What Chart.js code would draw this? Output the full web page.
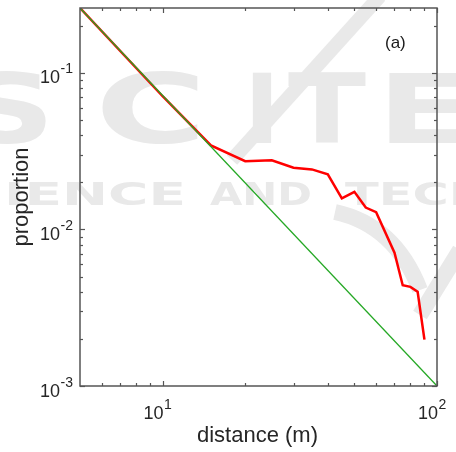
<!DOCTYPE html>
<html>
<head>
<meta charset="utf-8">
<script src="https://cdn.jsdelivr.net/npm/chart.js"></script>
<style>
  html, body { margin: 0; padding: 0; background: #fff; }
  #wrap { width: 456px; height: 452px; }
</style>
</head>
<body>
<div id="wrap"><canvas id="distChart" width="456" height="452"></canvas></div>
<script>
// observed proportion per distance bin (m)
const distances = [5, 10, 15, 20, 25, 30, 35, 40, 45, 50, 55, 60, 70, 75, 80, 85, 90];
const proportions = [0.26, 0.071, 0.0344, 0.0273, 0.0277, 0.0248, 0.0242, 0.0225, 0.0158, 0.0174,
                     0.0138, 0.0129, 0.0071, 0.0044, 0.0043, 0.0040, 0.00198];

// fitted power law - straight on log-log, so the two ends are enough
const fitDistances = [5, 100];
const fitProportions = [0.26, 0.001];

// axis ticks
const xMajorTicks = [10, 100];
const xTickExponents = ['1', '2'];
const xMinorTicks = [6, 7, 8, 9, 20, 30, 40, 50, 60, 70, 80, 90];
const yMajorTicks = [0.001, 0.01, 0.1];
const yTickExponents = ['-3', '-2', '-1'];
const yMinorTicks = [0.002, 0.003, 0.004, 0.005, 0.006, 0.007, 0.008, 0.009,
                     0.02, 0.03, 0.04, 0.05, 0.06, 0.07, 0.08, 0.09, 0.2];

const xTitle = 'distance (m)';
const yTitle = 'proportion';
const panelTag = '(a)';

function toPoints(xs, ys) {
    return xs.map((x, i) => ({ x: x, y: ys[i] }));
}

// squeeze/stretch a word between two x positions (for the faint publisher watermark)
function stretchText(ctx, text, x0, x1, base) {
    const w = ctx.measureText(text).width;
    ctx.save();
    ctx.translate(x0, base);
    ctx.scale((x1 - x0) / w, 1);
    ctx.fillText(text, 0, 0);
    ctx.restore();
}

// draws "10" with a raised exponent, starting at x
function powerLabel(ctx, x, base, exp) {
    ctx.font = '18px "Liberation Sans", Arial, sans-serif';
    ctx.textAlign = 'left';
    ctx.textBaseline = 'alphabetic';
    ctx.fillText('10', x, base);
    const w = ctx.measureText('10').width;
    ctx.font = '14px "Liberation Sans", Arial, sans-serif';
    ctx.fillText(exp, x + w + 0.5, base - 10);
}

function powerWidth(ctx, exp) {
    ctx.font = '18px "Liberation Sans", Arial, sans-serif';
    const w = ctx.measureText('10').width;
    ctx.font = '14px "Liberation Sans", Arial, sans-serif';
    return { base: w, total: w + 0.5 + ctx.measureText(exp).width };
}

const matlabAxes = {
    id: 'matlabAxes',
    beforeDraw(chart) {
        const ctx = chart.ctx;
        ctx.save();
        ctx.fillStyle = '#fff';
        ctx.fillRect(0, 0, chart.width, chart.height);

        // watermark
        ctx.fillStyle = '#e9e9e9';
        ctx.strokeStyle = '#e9e9e9';
        ctx.font = 'bold 97px "DejaVu Sans", sans-serif';
        stretchText(ctx, 'S', -38, 55, 143);
        stretchText(ctx, 'C', 95, 207, 143);
        stretchText(ctx, 'I', 244, 280, 143);
        stretchText(ctx, 'T', 288, 366, 143);
        stretchText(ctx, 'E', 377, 470, 143);
        ctx.font = 'bold 32px "DejaVu Sans", sans-serif';
        stretchText(ctx, 'IENCE', 4, 186, 205);
        stretchText(ctx, 'AND', 210, 312, 205);
        stretchText(ctx, 'TECH', 345, 490, 205);

        ctx.lineWidth = 14;
        ctx.beginPath();
        ctx.moveTo(380, -4);
        ctx.lineTo(232, 160);
        ctx.stroke();

        ctx.lineWidth = 16;
        ctx.beginPath();
        ctx.moveTo(335, 212);
        ctx.quadraticCurveTo(395, 225, 420, 290);
        ctx.stroke();
        ctx.beginPath();
        ctx.moveTo(420, 315);
        ctx.lineTo(460, 250);
        ctx.stroke();
        ctx.restore();
    },
    afterDatasetsDraw(chart) {
        const ctx = chart.ctx;
        const a = chart.chartArea;
        const xs = chart.scales.x;
        const ys = chart.scales.y;
        ctx.save();
        ctx.strokeStyle = '#555';
        ctx.lineWidth = 1.2;

        const tick = (x1, y1, x2, y2) => {
            ctx.beginPath();
            ctx.moveTo(x1, y1);
            ctx.lineTo(x2, y2);
            ctx.stroke();
        };
        xMinorTicks.forEach(v => {
            const px = Math.round(xs.getPixelForValue(v)) + 0.5;
            tick(px, a.bottom, px, a.bottom - 3);
            tick(px, a.top, px, a.top + 3);
        });
        xMajorTicks.forEach(v => {
            const px = Math.round(xs.getPixelForValue(v)) + 0.5;
            tick(px, a.bottom, px, a.bottom - 5);
            tick(px, a.top, px, a.top + 5);
        });
        yMinorTicks.forEach(v => {
            const py = Math.round(ys.getPixelForValue(v)) + 0.5;
            tick(a.left, py, a.left + 3, py);
            tick(a.right, py, a.right - 3, py);
        });
        yMajorTicks.forEach(v => {
            const py = Math.round(ys.getPixelForValue(v)) + 0.5;
            tick(a.left, py, a.left + 5, py);
            tick(a.right, py, a.right - 5, py);
        });

        // box
        ctx.lineWidth = 1.5;
        ctx.strokeRect(a.left, a.top, a.right - a.left, a.bottom - a.top);

        // tick labels
        ctx.fillStyle = '#262626';
        yMajorTicks.forEach((v, i) => {
            const py = ys.getPixelForValue(v);
            const w = powerWidth(ctx, yTickExponents[i]);
            powerLabel(ctx, a.left - 7 - w.total, py + 10.5, yTickExponents[i]);
        });
        xMajorTicks.forEach((v, i) => {
            const px = xs.getPixelForValue(v);
            const w = powerWidth(ctx, xTickExponents[i]);
            powerLabel(ctx, px + 1 - w.base, a.bottom + 33, xTickExponents[i]);
        });

        // axis titles
        ctx.font = '22px "Liberation Sans", Arial, sans-serif';
        ctx.textAlign = 'center';
        ctx.textBaseline = 'alphabetic';
        ctx.fillText(xTitle, (a.left + a.right) / 2 - 1, 442);
        ctx.save();
        ctx.translate(27.5, (a.top + a.bottom) / 2);
        ctx.rotate(-Math.PI / 2);
        ctx.fillText(yTitle, 0, 0);
        ctx.restore();

        // panel tag
        ctx.font = '17px "Liberation Sans", Arial, sans-serif';
        ctx.textAlign = 'left';
        ctx.fillStyle = '#1a1a1a';
        ctx.fillText(panelTag, 385, 48);
        ctx.restore();
    }
};

function initializeDistanceChart() {
    const distCtx = document.getElementById('distChart').getContext('2d');
    new Chart(distCtx, {
        type: 'line',
        data: {
            datasets: [{
                label: 'power law fit',
                data: toPoints(fitDistances, fitProportions),
                borderColor: '#25a825',
                borderWidth: 1.3,
                pointRadius: 0,
                tension: 0
            }, {
                label: 'observed',
                data: toPoints(distances, proportions),
                borderColor: '#ff0000',
                borderWidth: 2.5,
                pointRadius: 0,
                tension: 0
            }]
        },
        options: {
            responsive: false,
            animation: false,
            layout: {
                padding: { left: 80, right: 19, top: 8, bottom: 66 }
            },
            scales: {
                x: { type: 'logarithmic', min: 5, max: 100, display: false },
                y: { type: 'logarithmic', min: 0.001, max: 0.26, display: false }
            },
            plugins: {
                legend: { display: false },
                tooltip: { enabled: false }
            }
        },
        plugins: [matlabAxes]
    });
}

document.addEventListener('DOMContentLoaded', () => {
    initializeDistanceChart();
});
</script>
</body>
</html>
